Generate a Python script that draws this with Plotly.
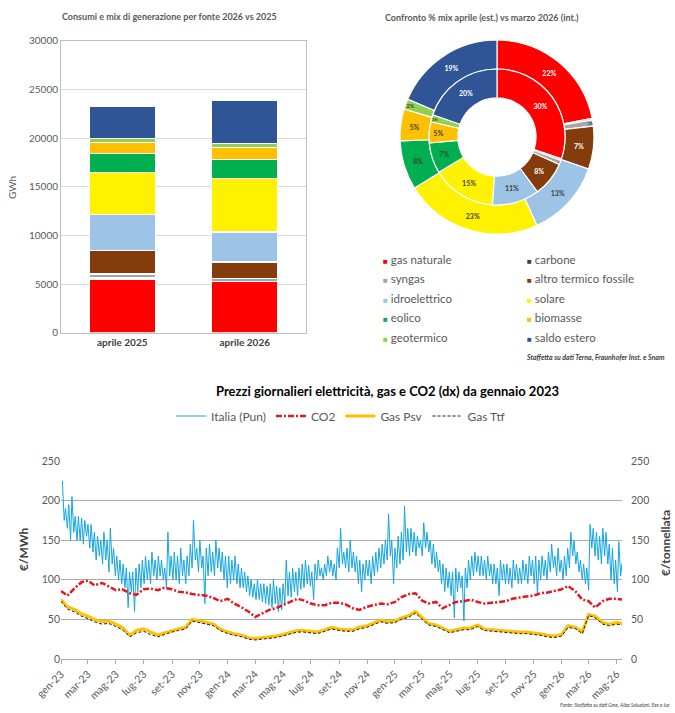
import pandas as pd
import plotly.graph_objects as go

W,H=675,713
def px(x): return x/W
def py(y): return 1-y/H

FONT="Lato";GRAY="#595959";DARK="#404040"

# --- generation mix (top) ---
sources=["gas naturale","carbone","syngas","altro termico fossile","idroelettrico",
         "solare","eolico","biomasse","geotermico","saldo estero"]
bar_months=["aprile 2025","aprile 2026"]
gwh_apr_2025=[5480,150,400,2430,3660,4350,1950,1100,440,3330]
gwh_apr_2026=[5240,60,250,1710,3080,5480,1950,1270,410,4450]
mix_mar_2026=[30.2,0.4,1.0,8.3,11.2,15.2,7.3,5.0,1.7,19.7]

src_colors=["#FF0000","#404040","#A6A6A6","#843C0C","#9DC3E6",
            "#FFF200","#00B050","#FFC000","#92D050","#2F5597"]
lbl_colors=["white","white",DARK,"white",DARK,DARK,DARK,DARK,DARK,"white"]

# --- daily prices (bottom) ---
# Pun: weekly mid-week highs and weekend lows (one value per week, Jan 2023 -> May 2026)
pun_high=[225,190,195,205,180, 180,178,175,170, 170,160,155,150, 160,150,165,140,
          130,125,120,115,110, 110,115,120,125, 130,125,135,125,130, 125,115,160,130,
          135,130,140,125, 130,145,175,140,150, 130,140,145,135, 150,140,135,130,
          130,125,130,120,115, 110,105,100,95, 100,95,95,92, 95,100,92,90,95,
          125,110,115,110, 115,120,125,118, 110,120,125,115,120, 130,125,120,140,
          165,135,140,150,135, 130,125,120,125, 125,130,135,140, 145,150,183,150,140,
          155,160,193,165, 165,160,155,150, 172,160,150,145,135, 125,120,115,110,
          110,115,110,105, 115,125,130,135,130, 130,125,130,120, 120,115,125,120,
          120,115,125,120,115, 125,120,130,125, 130,125,130,125, 135,145,130,140,125,
          130,140,160,150, 135,125,120,115, 170,165,160,155,165, 160,145,140,125, 148,120]
pun_low=[175,165,150,160,150, 150,145,155,140, 135,125,130,120, 125,110,120,105,
         100,95,90,65,85, 60,85,90,95, 100,95,105,100,105, 100,90,105,100,
         100,95,105,95, 105,115,125,110,115, 70,105,110,105, 115,110,100,90,
         95,100,95,90,90, 85,80,78,75, 75,72,70,68, 65,70,60,62,70,
         80,78,85,80, 88,90,95,92, 75,100,105,100,105, 110,105,100,115,
         120,115,110,115,110, 95,85,100,105, 95,105,110,115, 120,125,130,95,115,
         120,125,135,130, 135,130,140,130, 140,135,120,115,110, 95,85,90,80,
         52,85,90,48, 90,100,105,110,105, 105,100,105,95, 95,80,100,95,
         95,90,100,95,95, 100,95,105,95, 80,100,105,100, 110,115,105,110,100,
         105,115,130,120, 110,100,95,87, 140,130,125,120,130, 120,100,95,85, 105,105]
# CO2, Psv, Ttf: values on the 1st and 15th of each month
co2=[86,80,90,97,99,93,96,92,87,88,83,81,88,89,87,90,88,85,84,82,81,80,77,73,
     76,70,65,60,53,57,62,64,68,72,76,74,70,68,68,71,71,69,64,62,66,68,70,69,
     72,78,82,83,74,70,72,64,68,72,73,75,72,70,71,72,73,76,78,79,80,83,84,86,
     88,92,85,75,73,65,73,76,76,75]
gas_psv=[75,66,62,57,54,50,47,48,44,40,30,36,38,34,30,33,36,38,40,50,48,46,44,38,
         34,32,30,27,26,27,28,29,31,33,36,36,35,34,37,40,38,37,37,40,42,45,49,47,
         48,52,55,60,52,45,43,39,35,37,39,39,43,38,37,36,35,34,34,34,33,32,30,29,
         31,42,40,34,56,54,46,44,46,45]
gas_ttf=[73,63,59,54,51,47,44,45,41,37,28,33,35,31,28,31,34,36,38,48,46,44,42,36,
         32,30,28,25,24,25,26,27,29,31,34,34,33,32,35,38,36,35,35,38,40,43,47,45,
         46,50,53,58,50,43,41,37,33,35,37,37,41,36,35,34,33,32,32,32,31,30,28,27,
         29,40,38,32,55,52,44,42,44,43]

weeks=pd.date_range("2023-01-02",periods=len(pun_high),freq="W-MON")
pun_s=pd.concat([pd.Series(pun_high,index=weeks+pd.Timedelta(days=2)),
                 pd.Series(pun_low,index=weeks+pd.Timedelta(days=6))]).sort_index()
semi_dates=pd.date_range("2023-01-01",periods=len(co2),freq="SMS")

tick_dates=pd.date_range("2023-01-01","2026-05-01",freq="2MS")
tick_text=["gen-23","mar-23","mag-23","lug-23","set-23","nov-23",
           "gen-24","mar-24","mag-24","lug-24","set-24","nov-24",
           "gen-25","mar-25","mag-25","lug-25","set-25","nov-25",
           "gen-26","mar-26","mag-26"]

fig=go.Figure()

for name,a,b,c in zip(sources,gwh_apr_2025,gwh_apr_2026,src_colors):
    fig.add_trace(go.Bar(x=bar_months,y=[a,b],name=name,marker=dict(color=c,line=dict(color="white",width=1.2)),
        width=0.54,showlegend=False,xaxis="x",yaxis="y"))

# nested donut: outer = aprile (est.), inner = marzo 2026
cx,cy=497,137
for vals,r,hole in [(gwh_apr_2026,97,0.70),(mix_mar_2026,68,0.575)]:
    fig.add_trace(go.Pie(values=vals,labels=sources,sort=False,direction="clockwise",hole=hole,
        domain=dict(x=[px(cx-r),px(cx+r)],y=[py(cy+r),py(cy-r)]),
        marker=dict(colors=src_colors,line=dict(color="white",width=1.2)),
        texttemplate="<b>%{percent:.0%}</b>",textposition="inside",insidetextorientation="horizontal",
        textfont=dict(family=FONT,size=7,color=lbl_colors),showlegend=False,hoverinfo="label+percent"))

fig.add_trace(go.Scatter(x=pun_s.index,y=pun_s.values,name="Italia (Pun)",mode="lines",
    line=dict(color="#14A5E0",width=1),xaxis="x2",yaxis="y2"))
fig.add_trace(go.Scatter(x=semi_dates,y=co2,name="CO2",mode="lines",
    line=dict(color="#E5161D",width=2.5,dash="6px,2px,2px,2px"),xaxis="x2",yaxis="y3"))
fig.add_trace(go.Scatter(x=semi_dates,y=gas_psv,name="Gas Psv",mode="lines",
    line=dict(color="#FFC000",width=3),xaxis="x2",yaxis="y2"))
fig.add_trace(go.Scatter(x=semi_dates,y=gas_ttf,name="Gas Ttf",mode="lines",
    line=dict(color="#1A1A1A",width=1,dash="3px,2px"),xaxis="x2",yaxis="y2"))

ann=[]
def txt(x,y,s,size,color=GRAY,bold=False,italic=False,anchor="center",angle=0):
    ann.append(dict(x=px(x),y=py(y),xref="paper",yref="paper",text=s,showarrow=False,textangle=angle,
        xanchor=anchor,yanchor="middle",font=dict(family=FONT,size=size,color=color,
        weight="bold" if bold else "normal",style="italic" if italic else "normal")))

txt(170,16,"Consumi e mix di generazione per fonte 2026 vs 2025",9,bold=True)
txt(482,17,"Confronto % mix aprile (est.) vs marzo 2026 (int.)",9,bold=True)
txt(387,391,"Prezzi giornalieri elettricità, gas e CO2 (dx) da gennaio 2023",13,color="black",bold=True)
txt(12,188,"GWh",10,angle=-90)
txt(23,550,"€/MWh",12,color=DARK,bold=True,angle=-90)
txt(665,543,"€/tonnellata",12,color=DARK,bold=True,angle=-90)
txt(667,357,"Staffetta su dati Terna, Fraunhofer Inst. e Snam",7,color=DARK,bold=True,italic=True,anchor="right")
txt(672,705,"Fonte: Staffetta su dati Gme, Alba Soluzioni, Eex e Ice",5,color=DARK,italic=True,anchor="right")
for i,(name,c) in enumerate(zip(sources,src_colors)):
    txt(381 if i%2==0 else 525,259+(i//2)*19.5,
        f"<span style='color:{c};font-size:8px'>■</span> {name}",11.5,anchor="left")

tick_font=dict(family=FONT,size=10.5,color=GRAY)
fig.update_layout(
    width=W,height=H,margin=dict(l=0,r=0,t=0,b=0),paper_bgcolor="white",plot_bgcolor="white",
    barmode="stack",font=dict(family=FONT,color=GRAY),annotations=ann,
    xaxis=dict(domain=[px(61),px(306)],showline=True,mirror=True,linecolor="#BFBFBF",
        tickfont=dict(family=FONT,size=10,color=DARK,weight="bold"),automargin=False),
    yaxis=dict(domain=[py(332.7),py(40.7)],range=[0,30000],dtick=5000,tickformat="d",showline=True,mirror=True,
        linecolor="#BFBFBF",gridcolor="#D9D9D9",tickfont=dict(family=FONT,size=10,color=GRAY),automargin=False),
    xaxis2=dict(domain=[px(61),px(622)],anchor="y2",type="date",range=["2023-01-01","2026-05-13"],
        tickmode="array",tickvals=tick_dates,ticktext=tick_text,tickangle=-45,ticks="outside",ticklen=4,
        tickcolor="#ABABAB",showline=True,linecolor="#ABABAB",showgrid=False,tickfont=tick_font,automargin=False),
    yaxis2=dict(domain=[py(659),py(461)],anchor="x2",range=[0,250],dtick=50,gridcolor="#ABABAB",
        zeroline=False,tickfont=tick_font,automargin=False),
    yaxis3=dict(overlaying="y2",anchor="x2",side="right",range=[0,250],dtick=50,showgrid=False,
        zeroline=False,tickfont=tick_font,ticklabelstandoff=8,automargin=False),
    legend=dict(orientation="h",traceorder="normal",x=px(341),xanchor="center",y=py(416),yanchor="middle",
        font=dict(family=FONT,size=12,color=GRAY),bgcolor="rgba(0,0,0,0)"),
)

# the page's default 8px body margin would push the fixed-size figure past the window
fig.write_html("out.html",config={"displayModeBar":False},
               post_script="document.body.style.margin='0';")
